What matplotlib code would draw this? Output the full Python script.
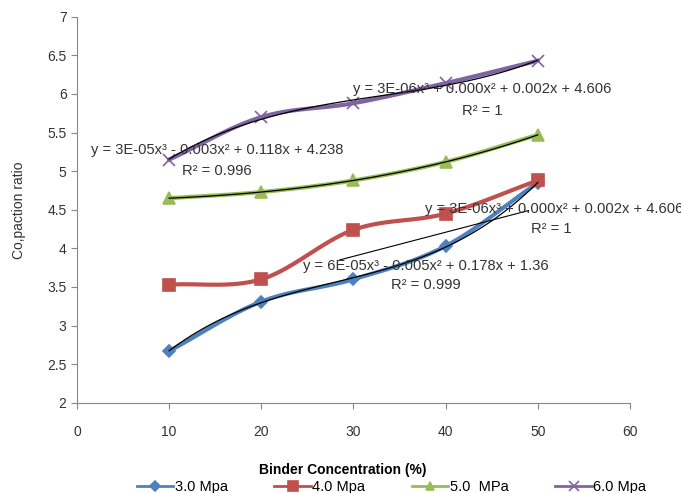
import matplotlib
matplotlib.use('Agg')
import matplotlib.pyplot as plt
import numpy as np

plt.rcParams['font.family'] = ['Liberation Sans', 'DejaVu Sans']

binder = [10, 20, 30, 40, 50]
mpa3 = [2.67, 3.31, 3.60, 4.03, 4.85]
mpa4 = [3.53, 3.60, 4.24, 4.45, 4.88]
mpa5 = [4.65, 4.73, 4.88, 5.12, 5.47]
mpa6 = [5.15, 5.70, 5.88, 6.14, 6.43]

# stray straight trend segment seen under the 4.0 series
stray_x = [28.5, 49]
stray_y = [3.85, 4.49]

eq3 = 'y = 6E-05x³ - 0.005x² + 0.178x + 1.36'
eq4 = 'y = 3E-06x³ + 0.000x² + 0.002x + 4.606'
eq5 = 'y = 3E-05x³ - 0.003x² + 0.118x + 4.238'
eq6 = 'y = 3E-06x³ + 0.000x² + 0.002x + 4.606'


def smooth(x, y, n=30):
    # catmull-rom through the points, like excel's smoothed line
    x = np.asarray(x, float)
    y = np.asarray(y, float)
    px = np.concatenate([[2 * x[0] - x[1]], x, [2 * x[-1] - x[-2]]])
    py = np.concatenate([[2 * y[0] - y[1]], y, [2 * y[-1] - y[-2]]])
    xs, ys = [], []
    t = np.linspace(0, 1, n)
    for i in range(1, len(px) - 2):
        for arr, out in ((px, xs), (py, ys)):
            p0, p1, p2, p3 = arr[i - 1:i + 3]
            out.extend(0.5 * ((2 * p1) + (-p0 + p2) * t
                              + (2 * p0 - 5 * p1 + 4 * p2 - p3) * t ** 2
                              + (-p0 + 3 * p1 - 3 * p2 + p3) * t ** 3))
    return xs, ys


fig = plt.figure(figsize=(6.81, 4.93), dpi=100)
ax = fig.add_axes([0.113, 0.183, 0.812, 0.783])

series = [
    (mpa3, '#4F81BD', 'D', 6, '3.0 Mpa'),
    (mpa4, '#C0504D', 's', 9, '4.0 Mpa'),
    (mpa5, '#9BBB59', '^', 8, '5.0  MPa'),
    (mpa6, '#8064A2', 'x', 9, '6.0 Mpa'),
]
handles = []
for vals, col, mk, ms, lab in series:
    sx, sy = smooth(binder, vals)
    ax.plot(sx, sy, color=col, lw=3, zorder=2)
    ax.plot(binder, vals, ls='none', marker=mk, ms=ms, color=col,
            mec=col, mew=1.2, zorder=3)
    h, = ax.plot([], [], color=col, lw=2, marker=mk, ms=ms * 0.8, mew=1.2, label=lab)
    handles.append(h)

# cubic trendlines
xx = np.linspace(10, 50, 100)
for vals in (mpa3, mpa5, mpa6):
    c = np.polyfit(binder, vals, 3)
    ax.plot(xx, np.polyval(c, xx), color='black', lw=0.9, zorder=4)
ax.plot(stray_x, stray_y, color='black', lw=0.8, zorder=4)

fs = 10.6
tc = '#333333'
ax.text(44.0, 6.07, eq6, ha='center', va='center', fontsize=fs, color=tc, zorder=5)
ax.text(44.0, 5.78, 'R² = 1', ha='center', va='center', fontsize=fs, color=tc, zorder=5)
ax.text(15.2, 5.28, eq5, ha='center', va='center', fontsize=fs, color=tc, zorder=5)
ax.text(15.2, 5.00, 'R² = 0.996', ha='center', va='center', fontsize=fs, color=tc, zorder=5)
ax.text(37.8, 4.51, eq4, ha='left', va='center', fontsize=fs, color=tc, zorder=5, clip_on=False)
ax.text(51.5, 4.25, 'R² = 1', ha='center', va='center', fontsize=fs, color=tc, zorder=5)
ax.text(37.8, 3.77, eq3, ha='center', va='center', fontsize=fs, color=tc, zorder=5)
ax.text(37.8, 3.52, 'R² = 0.999', ha='center', va='center', fontsize=fs, color=tc, zorder=5)

ax.set_xlim(0, 60)
ax.set_ylim(2, 7)
ax.set_xticks(range(0, 61, 10))
ax.set_yticks(np.arange(2, 7.01, 0.5))
ax.set_yticklabels(['2', '2.5', '3', '3.5', '4', '4.5', '5', '5.5', '6', '6.5', '7'])
for s in ('top', 'right'):
    ax.spines[s].set_visible(False)
for s in ('left', 'bottom'):
    ax.spines[s].set_color('#888888')
ax.tick_params(direction='out', length=4, color='#888888', labelsize=10, labelcolor='#333333')
ax.tick_params(axis='x', pad=12)

ax.set_xlabel('Binder Concentration (%)', fontsize=10, fontweight='bold')
ax.xaxis.set_label_coords(0.48, -0.155)
ax.set_ylabel('Co,paction ratio', fontsize=10, color='#333333')
ax.yaxis.set_label_coords(-0.092, 0.5)

fig.legend(handles=handles, loc='center', ncol=4, frameon=False, fontsize=10.5,
           bbox_to_anchor=(0.575, 0.012), columnspacing=3.2, handlelength=2.5,
           handletextpad=0.1)

fig.savefig('out.png', dpi=100)
